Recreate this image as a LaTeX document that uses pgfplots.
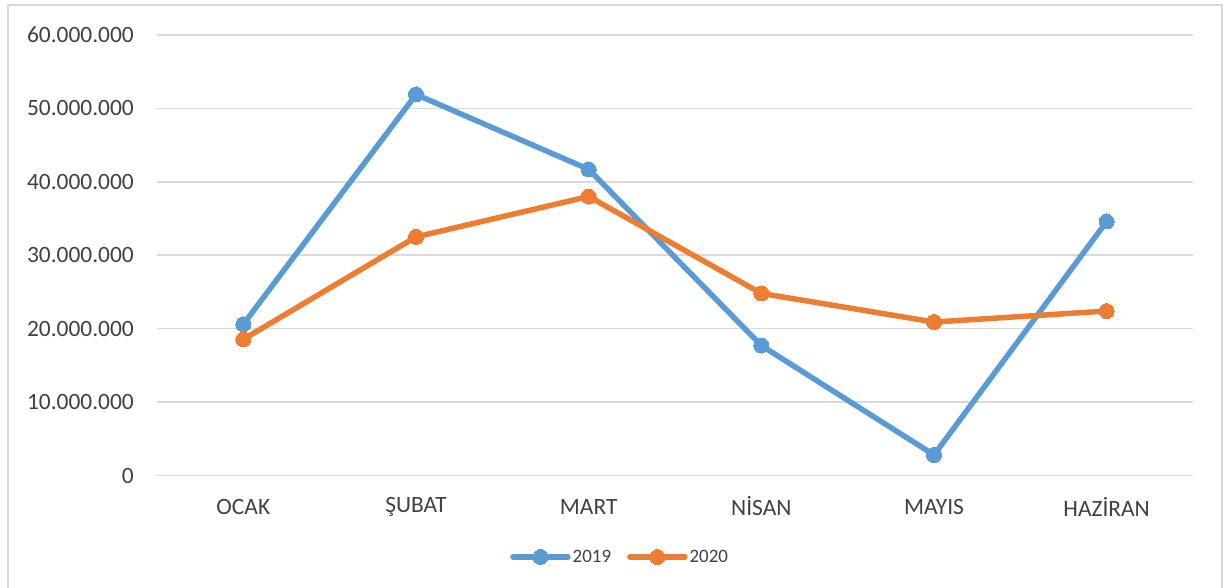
\documentclass[border=0pt]{standalone}
\usepackage{pgfplots}
\pgfplotsset{compat=1.18}
\usepackage{fontspec}
\setmainfont{Carlito}
\definecolor{sblue}{HTML}{5B9BD5}
\definecolor{sorange}{HTML}{ED7D31}
\definecolor{gridc}{HTML}{D9D9D9}
\definecolor{txt}{HTML}{404040}
\begin{document}
\begin{tikzpicture}[x=1bp,y=1bp]
\useasboundingbox (0,0) rectangle (1223,588);
\draw[gridc, line width=1.5bp] (8,-5) -- (8,583) -- (1222,583) -- (1222,-5);
\begin{axis}[
  at={(157bp,112.5bp)}, anchor=south west,
  scale only axis, width=1036bp, height=440.5bp,
  xmin=-0.5, xmax=5.5, ymin=0, ymax=60000000,
  xtick={0,1,2,3,4,5},
  xticklabels={OCAK,ŞUBAT,MART,NİSAN,MAYIS,HAZİRAN},
  ytick={0,10000000,20000000,30000000,40000000,50000000,60000000},
  scaled y ticks=false,
  /pgf/number format/.cd, fixed, 1000 sep={.}, assume math mode=true,
  /pgfplots/.cd,
  axis line style={draw=none},
  major tick length=0pt,
  ymajorgrids, grid style={gridc, line width=1.5bp},
  tick label style={font=\fontsize{23.5}{27}\selectfont, text=txt},
  yticklabel style={anchor=east, inner sep=0pt, xshift=-23bp},
  xticklabel style={anchor=center, inner sep=0pt, yshift=-31bp},
  legend style={draw=none, at={(0.447,-0.185)}, anchor=center,
    font=\fontsize{19}{23}\selectfont, text=txt, legend columns=-1,
    /tikz/every even column/.append style={column sep=14bp}},
  legend image code/.code={
    \draw[#1, mark=none, line cap=round] (0bp,0bp) -- (55bp,0bp);
    \draw[#1, only marks] plot coordinates {(27.5bp,0bp)};},
  every axis plot/.append style={line width=5.5bp, mark=*, mark size=7.5bp},
]
\addplot[sblue, mark options={fill=sblue, draw=sblue, line width=0pt}] coordinates {
  (0,20600000) (1,51900000) (2,41700000) (3,17700000) (4,2800000) (5,34600000)};
\addlegendentry{2019}
\addplot[sorange, mark options={fill=sorange, draw=sorange, line width=0pt}] coordinates {
  (0,18550000) (1,32500000) (2,38000000) (3,24800000) (4,20900000) (5,22400000)};
\addlegendentry{2020}
\end{axis}
\end{tikzpicture}
\end{document}
